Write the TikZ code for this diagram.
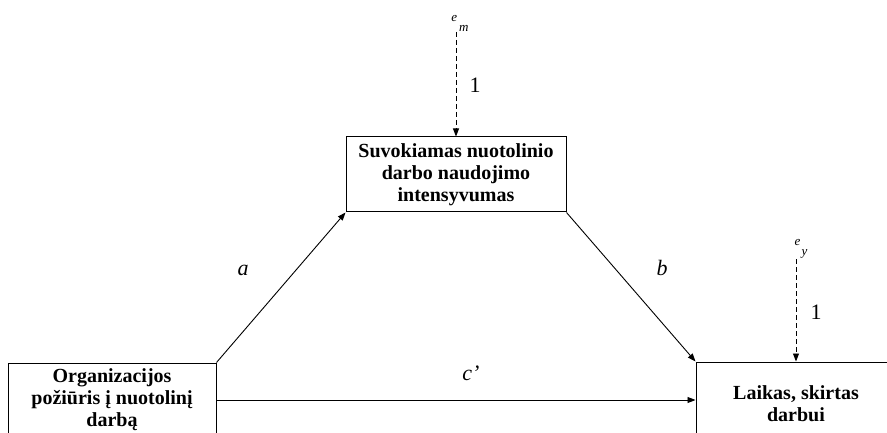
\documentclass[tikz,border=0pt]{standalone}
\usepackage{fontspec}
\setmainfont{Liberation Serif}
\usetikzlibrary{positioning}
\usetikzlibrary{arrows.meta}

\begin{document}
\begin{tikzpicture}[
    x=1pt, y=-1pt,
    block/.style={rectangle, draw, line width=1pt, inner sep=0pt, align=center,
                  font=\fontsize{20}{22}\selectfont\bfseries},
    lbl/.style={inner sep=0pt, font=\fontsize{22}{24}\selectfont},
    err/.style={inner sep=0pt, font=\fontsize{13}{13}\selectfont\itshape},
    arrow/.style={-{Triangle[length=8pt, width=6pt]}, line width=0.9pt},
    dasharrow/.style={arrow, dash pattern=on 5pt off 3pt}
]
    \clip (0,0) rectangle (887,433);

    \node[block, minimum width=220pt, minimum height=75pt] (med) at (456,174.5)
        {Suvokiamas nuotolinio\\darbo naudojimo\\intensyvumas};
    \node[block, minimum width=208pt, minimum height=74pt] (org) at (112,400)
        {Organizacijos\\požiūris į nuotolinį\\darbą};
    \node[block, minimum width=200pt, minimum height=84pt] (time) at (796,404)
        {Laikas, skirtas\\darbui};

    \node[err, anchor=south] (em) at (460,32) {e\hspace{2pt}\raisebox{-10pt}{m}};
    \node[err, anchor=south] (ey) at (801,259) {e\hspace{1pt}\raisebox{-10pt}{y}};

    \draw[dasharrow] (em.south -| med.north) -- (med.north);
    \draw[dasharrow] (ey.south -| time.north) -- (time.north);
    \draw[arrow] (org.north east) -- (med.south west);
    \draw[arrow] (med.south east) -- (time.north west);
    \draw[arrow] (org.east) -- (org.east -| time.west);

    \node[lbl] at (475,85) {1};
    \node[lbl] at (816,312) {1};
    \node[lbl, font=\fontsize{22}{24}\selectfont\itshape] at (243,270) {a};
    \node[lbl, font=\fontsize{22}{24}\selectfont\itshape] at (662,268) {b};
    \node[lbl, font=\fontsize{22}{24}\selectfont\itshape] at (471,373) {c’};
\end{tikzpicture}
\end{document}
